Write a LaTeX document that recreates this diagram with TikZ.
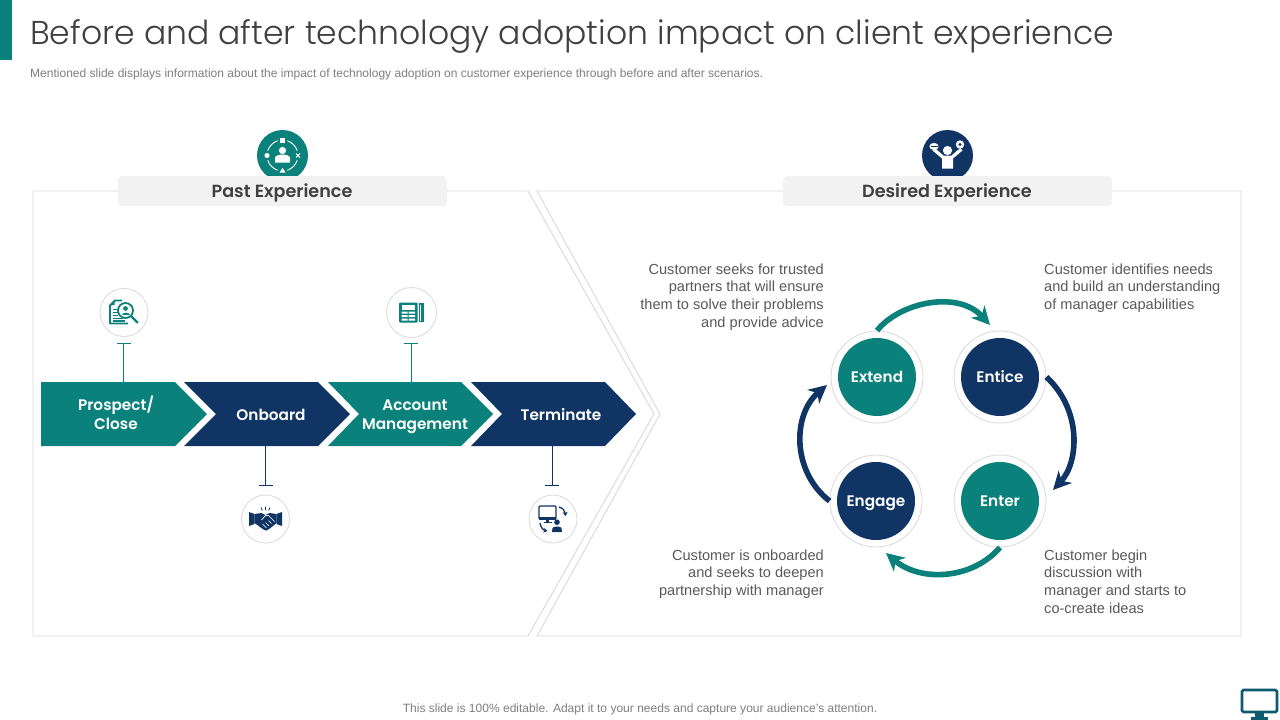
\documentclass[tikz,border=0pt]{standalone}
\usepackage{fontspec}
\setmainfont{Liberation Sans}
\newfontfamily\gothic{Poppins Light}
\newfontfamily\gothicsb{Poppins SemiBold}
\usetikzlibrary{arrows.meta}
\definecolor{teal1}{HTML}{0A817A}
\definecolor{navy1}{HTML}{103564}
\definecolor{panelline}{HTML}{D9D9D9}
\definecolor{pillbg}{HTML}{F2F2F2}
\definecolor{bodytext}{HTML}{595959}
\definecolor{headtext}{HTML}{404040}
\definecolor{smalltext}{HTML}{7F7F7F}
\tikzset{
  panel/.style={draw=panelline,line width=.9pt,line join=miter},
  pill/.style={fill=pillbg,rounded corners=4pt,draw=none},
  headlabel/.style={font=\gothicsb\fontsize{17.6}{22}\selectfont,text=headtext,inner sep=0pt},
  chevlabel/.style={font=\gothicsb\fontsize{15.3}{19}\selectfont,text=white,align=center,inner sep=0pt},
  ringlabel/.style={circle,draw=panelline,fill=white,line width=.8pt,minimum size=92pt,inner sep=0pt},
  disc/.style={circle,fill=#1,draw=none,minimum size=78pt,inner sep=0pt,font=\gothicsb\fontsize{15.3}{19}\selectfont,text=white},
  iconring/.style={circle,draw=panelline,fill=white,line width=.8pt,inner sep=0pt,minimum size=#1},
  headdisc/.style={circle,fill=#1,draw=none,minimum size=51pt,inner sep=0pt},
  tconn/.style={draw=#1,line width=1pt},
  cyc/.style={draw=#1,line width=5.6pt,-{Stealth[length=18pt,width=18pt,inset=5.5pt]}},
  note/.style={font=\fontsize{14.6}{17.7}\selectfont,text=bodytext,inner sep=0pt},
  small/.style={font=\fontsize{12.03}{14}\selectfont,text=smalltext,inner sep=0pt}
}
\begin{document}
\begin{tikzpicture}[x=1pt,y=-1pt]
\useasboundingbox (0,0) rectangle (1280,720);
\fill[white] (0,0) rectangle (1280,720);
\fill[teal1] (0,0) rectangle (12,60);
\node[anchor=west,inner sep=0pt,text=headtext,font=\gothic\fontsize{33.05}{40}\selectfont] (title) at (30,36) {Before and after technology adoption impact on client experience};
\node[anchor=west,small] (sub) at (30,74.5) {Mentioned slide displays information about the impact of technology adoption on customer experience through before and after scenarios.};
% panels
\draw[panel] (33,191) -- (528,191) -- (654,414) -- (528,636) -- (33,636) -- cycle;
\draw[panel] (537,191) -- (660,414) -- (537,636) -- (1241,636) -- (1241,191) -- cycle;
% heads
\node[headdisc=teal1] (h1) at (282.5,155.5) {};
\node[headdisc=navy1] (h2) at (947.5,155.5) {};
\fill[pill] (118,176) rectangle (447,206);
\fill[pill] (783,176) rectangle (1112,206);
\node[headlabel] (pastl) at (282,193) {Past Experience};
\node[headlabel] (desl) at (947,193) {Desired Experience};
% head icon 1
\begin{scope}[shift={(282.5,155.5)}]
  \draw[white,line width=.9pt] (0,0) ++(-72:15.5) arc[start angle=-72,end angle=-18,radius=15.5];
  \draw[white,line width=.9pt] (0,0) ++(-162:15.5) arc[start angle=-162,end angle=-108,radius=15.5];
  \draw[white,line width=.9pt] (0,0) ++(108:15.5) arc[start angle=108,end angle=162,radius=15.5];
  \draw[white,line width=.9pt] (0,0) ++(18:15.5) arc[start angle=18,end angle=72,radius=15.5];
  \fill[white] (-2.5,-18) rectangle (2.5,-13);
  \fill[white] (-15.5,0) circle (2.6);
  \fill[white] (0,12.5) -- (3,17) -- (-3,17) -- cycle;
  \draw[white,line width=.9pt] (13.5,-2) -- (17.5,2) (13.5,2) -- (17.5,-2);
  \fill[white] (0,-5) circle (3.6);
  \fill[white] (-7.5,7) -- (-7.5,2.5) .. controls (-7.5,0) and (-3,-1) .. (0,-1) .. controls (3,-1) and (7.5,0) .. (7.5,2.5) -- (7.5,7) -- cycle;
\end{scope}
% head icon 2
\begin{scope}[shift={(947.5,155.5)}]
  \fill[white] (0,-5) circle (4.6);
  \fill[white] (-5.5,13) -- (-5.5,3) -- (-15,-5) -- (-12.8,-7.5) -- (-4,0) -- (4,0) -- (12.8,-7.5) -- (15,-5) -- (5.5,3) -- (5.5,13) -- cycle;
  \fill[white] (-13.5,-9) ellipse (4.6 and 3.6);
  \fill[navy1] (-17,-9.5) rectangle (-10,-8.8);
  \fill[white] (12.5,-11) circle (4.2);
  \fill[navy1] (12.5,-11) circle (1.7);
\end{scope}
% chevrons
\fill[teal1] (41,382) -- (175,382) -- (207,414) -- (175,446) -- (41,446) -- cycle;
\fill[navy1] (184,382) -- (318,382) -- (350,414) -- (318,446) -- (184,446) -- (216,414) -- cycle;
\fill[teal1] (328,382) -- (461,382) -- (493,414) -- (461,446) -- (328,446) -- (359,414) -- cycle;
\fill[navy1] (471,382) -- (605,382) -- (636,414) -- (605,446) -- (471,446) -- (502,414) -- cycle;
\node[chevlabel] (c1) at (116,413) {Prospect/\\Close};
\node[chevlabel] (c2) at (271,414.5) {Onboard};
\node[chevlabel] (c3) at (415,417) {Account\\Management};
\node[chevlabel] (c4) at (561,414.5) {Terminate};
\coordinate (c1n) at (116,382);
\coordinate (c3n) at (415,382);
\coordinate (c2s) at (271,446);
\coordinate (c4s) at (561,446);
% icon rings
\node[iconring=48pt] (i1) at (124,312.5) {};
\node[iconring=50pt] (i3) at (411.5,312.5) {};
\node[iconring=48pt] (i2) at (265.5,519) {};
\node[iconring=48pt] (i4) at (553,519) {};
% connectors
\coordinate (t1) at (123.5,343);
\coordinate (t3) at (411,343);
\coordinate (t2) at (265.5,485);
\coordinate (t4) at (552,485);
\draw[tconn=teal1] (t1) -- (t1 |- c1n);
\draw[tconn=teal1] ([xshift=-7pt]t1) -- ([xshift=7pt]t1);
\draw[tconn=teal1] (t3) -- (t3 |- c3n);
\draw[tconn=teal1] ([xshift=-7pt]t3) -- ([xshift=7pt]t3);
\draw[tconn=navy1] (t2) -- (t2 |- c2s);
\draw[tconn=navy1] ([xshift=-7pt]t2) -- ([xshift=7pt]t2);
\draw[tconn=navy1] (t4) -- (t4 |- c4s);
\draw[tconn=navy1] ([xshift=-7pt]t4) -- ([xshift=7pt]t4);
% icon: document search
\begin{scope}[shift={(124,312.5)}]
  \draw[teal1,line width=1.8pt,line join=round] (-2,-12) -- (-9,-12) -- (-14,-7) -- (-14,11) -- (4,11);
  \fill[teal1] (-9.5,-12) -- (-14,-7.5) -- (-9.5,-7.5) -- cycle;
  \draw[teal1,line width=1.1pt] (-11,-3) -- (-5,-3) (-11,0) -- (-6,0) (-11,3) -- (-6,3) (-11,6) -- (-1,6) (-11,8.5) -- (1,8.5);
  \draw[teal1,line width=1.8pt,fill=white] (1.5,-2) circle (7.5);
  \fill[teal1] (1.5,-4) circle (2.4);
  \fill[teal1] (-2.5,2.5) .. controls (-2.5,-.5) and (5.5,-.5) .. (5.5,2.5) -- cycle;
  \draw[teal1,line width=2.2pt,line cap=round] (7,3.5) -- (13.5,10);
\end{scope}
% icon: newspaper
\begin{scope}[shift={(411.5,312.5)}]
  \fill[teal1,rounded corners=1pt] (-12.5,-10) rectangle (6,10);
  \fill[teal1] (7,-10) rectangle (12.5,9);
  \fill[white] (8.5,-8) rectangle (9.5,8);
  \fill[white] (-10,-7.5) rectangle (3.5,-2.5);
  \fill[white] (-10,-1) rectangle (-4,1) (-10,2.5) rectangle (-4,4.5) (-10,6) rectangle (-4,8);
  \fill[white] (-3,-1) rectangle (3.5,1) (-3,2.5) rectangle (3.5,4.5) (-3,6) rectangle (3.5,8);
\end{scope}
% icon: handshake
\begin{scope}[shift={(265.5,519)}]
  \fill[navy1] (-16.5,-7) -- (-11,-5) -- (-11,5) -- (-16.5,7) -- cycle;
  \fill[navy1] (16.5,-7) -- (11,-5) -- (11,5) -- (16.5,7) -- cycle;
  \fill[navy1] (-11,-5) -- (-4,-6) -- (0,-4) -- (4,-6) -- (11,-5) -- (11,4) -- (5,9) -- (1,11.5) -- (-2,10.5) -- (-11,4) -- cycle;
  \draw[white,line width=.7pt] (-4,1) -- (0,-3.5) -- (3,-3.5) -- (9,2.5);
  \draw[white,line width=.6pt] (-3,5) -- (1,9) (0,3.5) -- (3.5,7) (3,1.5) -- (6,4.5);
  \draw[navy1,line width=.8pt] (0,-12.5) -- (0,-9) (-4.5,-11.5) -- (-3.2,-8.5) (4.5,-11.5) -- (3.2,-8.5);
\end{scope}
% icon: monitor with cycle
\begin{scope}[shift={(553,519)}]
  \draw[navy1,line width=1.3pt,rounded corners=1pt] (-14,-13) rectangle (3,0);
  \fill[navy1] (-14,-2) rectangle (3,0.5);
  \fill[navy1] (-7,.5) rectangle (-4,3);
  \fill[navy1] (-9.5,3) rectangle (-1.5,4.2);
  \draw[navy1,line width=1.3pt,-{Stealth[length=4pt,width=5pt]}] (6,-12) .. controls (10,-11) and (12,-8) .. (12.5,-3);
  \draw[navy1,line width=1.3pt,-{Stealth[length=4pt,width=5pt]}] (-13,4) .. controls (-12.5,8) and (-10,11) .. (-5.5,12);
  \fill[navy1] (4,3.2) circle (2.8);
  \fill[navy1] (-1,13) -- (-.5,9) .. controls (0,7) and (8,7) .. (8.5,9) -- (9,13) -- cycle;
\end{scope}
% cycle
\node[ringlabel] (extO) at (877,377) {};
\node[ringlabel] (entO) at (1000,377) {};
\node[ringlabel] (entrO) at (1000,501) {};
\node[ringlabel] (engO) at (876,501) {};
\node[disc=teal1] (extend) at (877,377) {Extend};
\node[disc=navy1] (entice) at (1000,377) {Entice};
\node[disc=teal1] (enter) at (1000,501) {Enter};
\node[disc=navy1,text depth=0pt] (engage) at (876,501) {Engage};
\coordinate (tipa) at (990,325);
\coordinate (tipb) at (1053,490);
\coordinate (tipc) at (886,553);
\coordinate (tipd) at (827,385);
\draw[cyc=teal1] (extO.north) .. controls (900,302) and (958,290) .. (tipa);
\draw[cyc=navy1] (entO.east) .. controls (1082,410) and (1079,462) .. (tipb);
\draw[cyc=teal1] (entrO.south) .. controls (972,580) and (920,582) .. (tipc);
\draw[cyc=navy1] (engO.west) .. controls (792,472) and (792,415) .. (tipd);
% notes
\node[note,anchor=north east,align=right] (n1) at (824,263.5) {Customer seeks for trusted\\partners that will ensure\\them to solve their problems\\and provide advice};
\node[note,anchor=north west,align=left] (n2) at (1044,263.5) {Customer identifies needs\\and build an understanding\\of manager capabilities};
\node[note,anchor=north east,align=right] (n3) at (824,549.5) {Customer is onboarded\\and seeks to deepen\\partnership with manager};
\node[note,anchor=north west,align=left] (n4) at (1044,549.5) {Customer begin\\discussion with\\manager and starts to\\co-create ideas};
% footer
\node[small] (foot) at (640,709.5) {This slide is 100\% editable. Adapt it to your needs and capture your audience's attention.};
\draw[navy1!50!teal1,line width=2.6pt,rounded corners=1.5pt] (1242,690) rectangle (1277,712);
\fill[navy1!50!teal1] (1255,713) rectangle (1264,717);
\fill[navy1!50!teal1] (1251,717) rectangle (1268,720);
\end{tikzpicture}
\end{document}
